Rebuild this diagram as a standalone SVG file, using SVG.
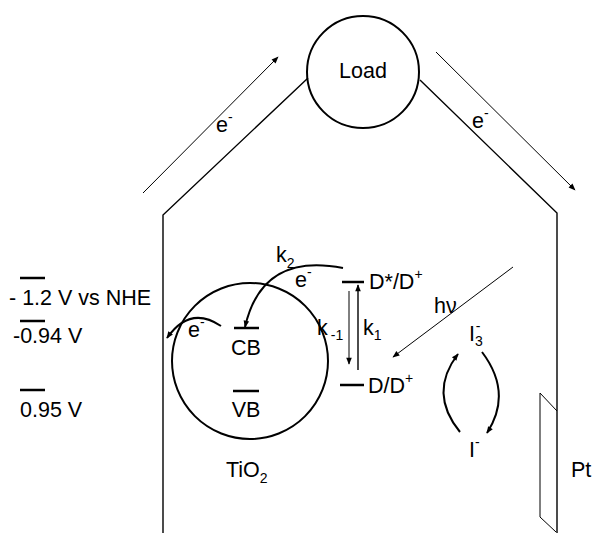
<svg xmlns="http://www.w3.org/2000/svg" width="595" height="533" viewBox="0 0 595 533">
<defs>
<style>
text{font-family:"Liberation Sans",Arial,sans-serif;font-size:21.5px;fill:#000}
.sub{font-size:14px}
.w{fill:none;stroke:#000;stroke-width:1.4}
.t{fill:none;stroke:#000;stroke-width:1}
.c{fill:none;stroke:#000;stroke-width:2}
.bar{stroke:#000;stroke-width:2.5}
</style>
<marker id="ah" viewBox="0 0 10 10" refX="9" refY="5" markerWidth="10" markerHeight="7" markerUnits="userSpaceOnUse" orient="auto"><path d="M0,1 L10,5 L0,9 Z" fill="#000"/></marker>
<marker id="ah2" viewBox="0 0 10 10" refX="9" refY="5" markerWidth="10" markerHeight="7" markerUnits="userSpaceOnUse" orient="auto"><path d="M0,1 L10,5 L0,9 Z" fill="#000"/></marker>
</defs>
<rect width="595" height="533" fill="#fff"/>
<g id="connectors">
<polyline class="w" points="163,533 163,215 308,78"/>
<polyline class="w" points="420,80 557,213 557,533"/>
<line class="t" x1="143" y1="193" x2="278" y2="57" marker-end="url(#ah)"/>
<line class="t" x1="436" y1="52" x2="575" y2="190" marker-end="url(#ah)"/>
<line class="t" x1="513" y1="267" x2="393" y2="357" marker-end="url(#ah)"/>
<line class="t" x1="349" y1="291" x2="349" y2="364" marker-end="url(#ah)"/>
<line class="w" x1="358" y1="370" x2="358" y2="285" marker-end="url(#ah)"/>
<path class="c" d="M343,268 Q262,252 245,327" marker-end="url(#ah2)"/>
<path class="c" d="M221,326 Q190,305 167,338" marker-end="url(#ah2)"/>
<path class="c" d="M460,432 Q428,393 458,354" marker-end="url(#ah2)"/>
<path class="c" d="M482,352 Q513,393 487,433" marker-end="url(#ah2)"/>
<polyline class="t" points="557,411 540,393 540,517 556,532"/>
</g>
<g id="load">
<circle class="c" cx="363" cy="72" r="56"/>
<text x="363" y="78" text-anchor="middle">Load</text>
</g>
<g id="e-left"><text x="216" y="132">e<tspan class="sub" dy="-10">-</tspan></text></g>
<g id="e-right"><text x="472" y="128">e<tspan class="sub" dy="-10">-</tspan></text></g>
<g id="tio2">
<circle class="c" cx="250" cy="361" r="78"/>
<line class="bar" x1="234" y1="328" x2="259" y2="328"/>
<text x="246" y="355" text-anchor="middle">CB</text>
<line class="bar" x1="233" y1="391" x2="259" y2="391"/>
<text x="246" y="417" text-anchor="middle">VB</text>
<text x="226" y="477">TiO<tspan class="sub" dy="6">2</tspan></text>
</g>
<g id="e-cb"><text x="188" y="337">e<tspan class="sub" dy="-10">-</tspan></text></g>
<g id="k2"><text x="276" y="262">k<tspan class="sub" dy="6">2</tspan></text>
<text x="295" y="287">e<tspan class="sub" dy="-10">-</tspan></text></g>
<g id="dstar">
<line class="bar" x1="342" y1="282" x2="364" y2="282"/>
<text x="369" y="289">D*/D<tspan class="sub" dy="-10">+</tspan></text>
</g>
<g id="d">
<line class="bar" x1="340" y1="385" x2="364" y2="385"/>
<text x="368" y="393">D/D<tspan class="sub" dy="-10">+</tspan></text>
</g>
<g id="krates">
<text x="317" y="335">k<tspan class="sub" dx="3" dy="5">-1</tspan></text>
<text x="363" y="335">k<tspan class="sub" dy="5">1</tspan></text>
</g>
<g id="hv"><text x="434" y="313">hν</text></g>
<g id="i3"><text x="469" y="341">I<tspan class="sub" dy="5">3</tspan><tspan class="sub" dx="-7" dy="-15">-</tspan></text></g>
<g id="i"><text x="469" y="457">I<tspan class="sub" dy="-10">-</tspan></text></g>
<g id="pt"><text x="571" y="477">Pt</text></g>
<g id="levels">
<line class="bar" x1="20" y1="278" x2="45" y2="278"/>
<text x="9" y="305">- 1.2 V vs NHE</text>
<line class="bar" x1="20" y1="321" x2="45" y2="321"/>
<text x="13" y="343">-0.94 V</text>
<line class="bar" x1="20" y1="390" x2="45" y2="390"/>
<text x="20" y="417">0.95 V</text>
</g>
</svg>
